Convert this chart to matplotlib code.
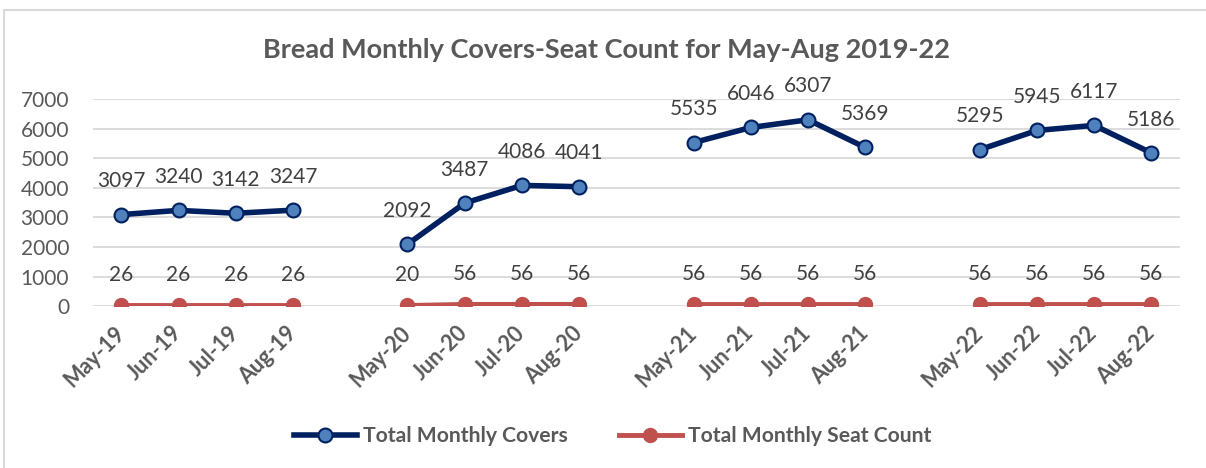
import numpy as np
import matplotlib.pyplot as plt
from matplotlib.lines import Line2D
from matplotlib.patches import Rectangle

plt.rcParams['font.family'] = ['Lato', 'DejaVu Sans']

months = ['May-19', 'Jun-19', 'Jul-19', 'Aug-19', '',
          'May-20', 'Jun-20', 'Jul-20', 'Aug-20', '',
          'May-21', 'Jun-21', 'Jul-21', 'Aug-21', '',
          'May-22', 'Jun-22', 'Jul-22', 'Aug-22']
covers = [3097, 3240, 3142, 3247,
          2092, 3487, 4086, 4041,
          5535, 6046, 6307, 5369,
          5295, 5945, 6117, 5186]
seats = [26, 26, 26, 26,
         20, 56, 56, 56,
         56, 56, 56, 56,
         56, 56, 56, 56]

navy = '#002060'
blue = '#4F81BD'
red = '#C0504D'
grey = '#595959'

fig = plt.figure(figsize=(12.06, 4.68), dpi=100)
ax = fig.add_axes([0.0769, 0.346, 0.9015, 0.4418])

# months that have data (skip the blank spacer categories)
xs = [i for i, m in enumerate(months) if m]

for g in range(4):
    gx = xs[g * 4:(g + 1) * 4]
    gc = covers[g * 4:(g + 1) * 4]
    gs = seats[g * 4:(g + 1) * 4]
    ax.plot(gx, gc, color=navy, lw=4, marker='o', ms=10,
            mfc=blue, mec=navy, mew=1.5, zorder=3, solid_capstyle='round')
    ax.plot(gx, gs, color=red, lw=3.5, marker='o', ms=10,
            mfc=red, mec=red, zorder=3, solid_capstyle='round')
    for x, c, s in zip(gx, gc, gs):
        ax.annotate(str(c), (x, c), xytext=(0, 24), textcoords='offset points',
                    ha='center', va='center', fontsize=15, color='#404040')
        ax.annotate(str(s), (x, s), xytext=(0, 22), textcoords='offset points',
                    ha='center', va='center', fontsize=15, color='#404040')

ax.set_xlim(-0.5, len(months) - 0.5)
ax.set_ylim(0, 7000)
ax.set_yticks(np.arange(0, 7001, 1000))
ax.set_xticks(range(len(months)))
ax.set_xticklabels(months, rotation=45, ha='right', va='center',
                   rotation_mode='anchor', fontweight='bold', fontsize=15.5, color=grey)
ax.tick_params(axis='x', length=0, pad=17)
ax.tick_params(axis='y', length=0, pad=17, labelsize=15, labelcolor=grey)
ax.grid(axis='y', color='#D9D9D9', lw=1.3)
ax.set_axisbelow(True)
for sp in ax.spines.values():
    sp.set_visible(False)

fig.text(0.503, 0.893, 'Bread Monthly Covers-Seat Count for May-Aug 2019-22',
         ha='center', va='center', fontsize=19.5, fontweight='bold', color=grey)

handles = [
    Line2D([], [], color=navy, lw=4, marker='o', ms=10, mfc=blue, mec=navy, mew=1.5),
    Line2D([], [], color=red, lw=3.5, marker='o', ms=10, mfc=red, mec=red),
]
fig.legend(handles, ['Total Monthly Covers', 'Total Monthly Seat Count'],
           loc='center', bbox_to_anchor=(0.508, 0.068), ncol=2, frameon=False,
           handlelength=3.0, handletextpad=0.3, columnspacing=2.4,
           prop={'weight': 'bold', 'size': 15.2}, labelcolor=grey)

# chart border (top and left edges visible in the crop)
fig.add_artist(Rectangle((4 / 1206, -0.05), 1.5, 1.05 - 10 / 468,
                         transform=fig.transFigure, fill=False,
                         edgecolor='#D9D9D9', lw=1.5))

fig.savefig('out.png', dpi=100)
